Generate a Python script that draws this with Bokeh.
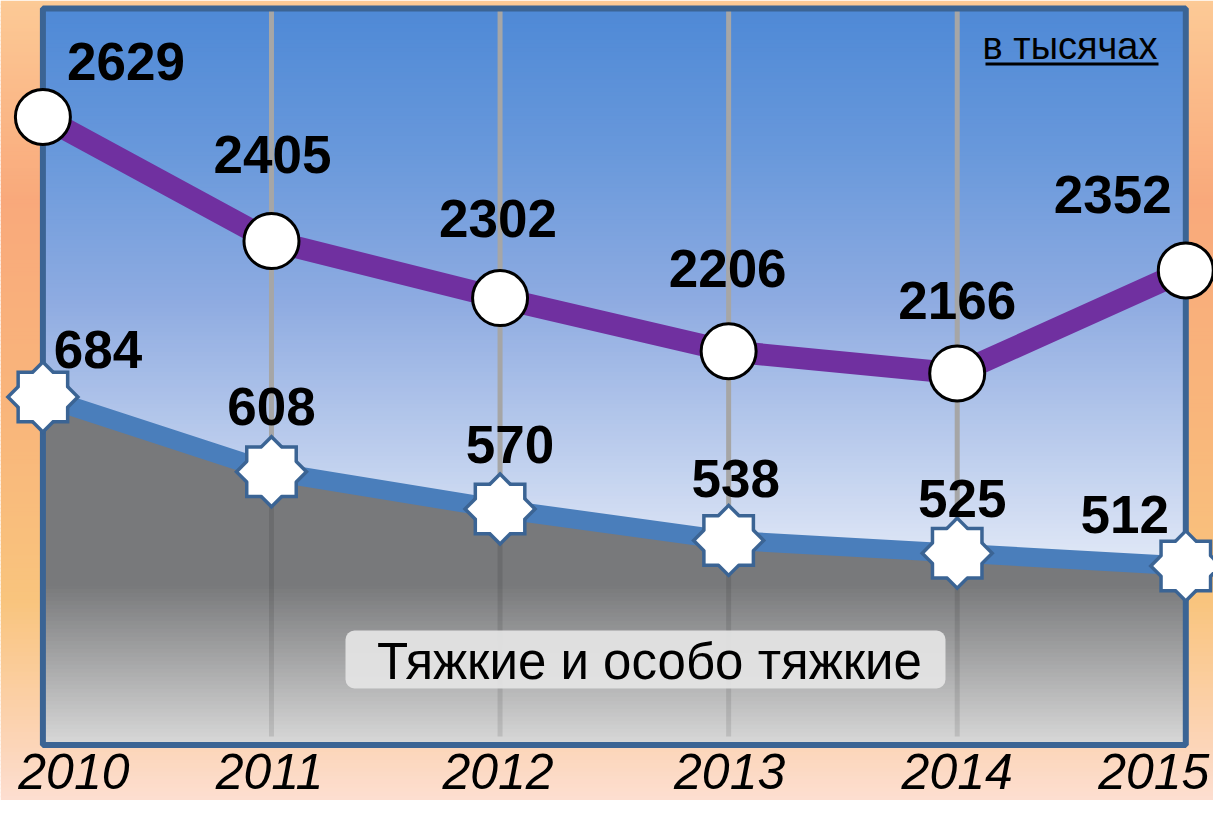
import numpy as np
from bokeh.plotting import figure
from bokeh.models import Range1d, ColumnDataSource
from bokeh.core.properties import value
from bokeh.embed import file_html
from bokeh.resources import INLINE

# ---------------- data ----------------
years = [2010, 2011, 2012, 2013, 2014, 2015]
year_labels = ["2010", "2011", "2012", "2013", "2014", "2015"]
total_crimes = [2629, 2405, 2302, 2206, 2166, 2352]     # purple line
grave_crimes = [684, 608, 570, 538, 525, 512]           # blue line / gray area
unit_note = "в тысячах"
area_label = "Тяжкие и особо тяжкие"

# ---------------- layout ----------------
W, H = 1213, 800
X0, X1 = 2009.8145, 2015.1212
Y0, Y1 = 1394.8, 2839.3      # scale of the purple series
B0, B1 = 273.0, 1088.0       # scale of the blue series
PLOT_TOP = 8.0
PLOT_BOTTOM = 744.5
TFIX = 0.37                  # baseline correction (fraction of font size)

def px_x(px):
    return X0 + px / W * (X1 - X0)

def px_y(py):
    return Y1 - py / H * (Y1 - Y0)

def px_b(py):
    return B1 - py / H * (B1 - B0)

def hex2rgb(h):
    return tuple(int(h[i:i + 2], 16) for i in (1, 3, 5))

def grad_color(stops, t):
    for (p0, c0), (p1, c1) in zip(stops[:-1], stops[1:]):
        if t <= p1:
            f = 0.0 if p1 == p0 else (t - p0) / (p1 - p0)
            f = min(max(f, 0.0), 1.0)
            a, b = hex2rgb(c0), hex2rgb(c1)
            return "#%02x%02x%02x" % tuple(int(round(a[k] + (b[k] - a[k]) * f)) for k in range(3))
    return stops[-1][1]

def strips(p, left, right, py_top, py_bot, stops, step=4.0):
    tops, bots, cols = [], [], []
    e = py_top
    while e < py_bot:
        e2 = min(e + step, py_bot)
        tops.append(px_y(max(e - 0.7, py_top)))
        bots.append(px_y(min(e2 + 0.7, py_bot)))
        cols.append(grad_color(stops, (e + e2) / 2))
        e = e2
    src = ColumnDataSource(dict(top=tops, bottom=bots, c=cols))
    p.quad(left=left, right=right, top="top", bottom="bottom", fill_color="c",
           line_color=None, source=src)

p = figure(width=W, height=H, x_range=Range1d(X0, X1), y_range=Range1d(Y0, Y1),
           x_axis_location=None, y_axis_location=None, toolbar_location=None,
           output_backend="svg", min_border=0, outline_line_color=None)
p.extra_y_ranges = {"blue": Range1d(B0, B1)}
p.grid.visible = False
p.background_fill_color = None
p.border_fill_color = None

# outer orange background gradient
orange_stops = [(0, "#fcca96"), (200, "#f9a97b"), (420, "#f9b67b"),
                (600, "#f9c47d"), (745, "#fcd5b8"), (816, "#fde1d8")]
strips(p, X0, X1, 0, H, orange_stops)

# blue plot-area gradient
blue_stops = [(8, "#4e89d6"), (150, "#6898db"), (300, "#8eabe1"),
              (450, "#bccded"), (580, "#e6ecf8"), (745, "#ffffff")]
strips(p, years[0], years[-1], PLOT_TOP, PLOT_BOTTOM, blue_stops)

# vertical grid lines
inner = years[1:-1]
p.segment(x0=inner, x1=inner, y0=[px_y(PLOT_TOP)] * len(inner), y1=[px_y(PLOT_BOTTOM)] * len(inner),
          line_color="#a6a6a6", line_width=5)

# gray area under blue line
p.varea(x=years, y1=[px_b(PLOT_BOTTOM)] * len(years), y2=grave_crimes,
        fill_color="#78797b", y_range_name="blue")

# lighter gray gradient toward the bottom
gray_stops = [(585, "#78797b"), (744.5, "#d8d8d8")]
strips(p, years[0], years[-1], 585, PLOT_BOTTOM, gray_stops)

# darker grid lines over gray area
p.segment(x0=inner, x1=inner, y0=grave_crimes[1:-1], y1=[px_b(736)] * len(inner),
          line_color="black", line_alpha=0.1, line_width=5, y_range_name="blue")

# plot box border
p.quad(left=years[0], right=years[-1], top=px_y(PLOT_TOP), bottom=px_y(PLOT_BOTTOM),
       fill_alpha=0, line_color="#3b6494", line_width=6)

# lines
p.line(years, grave_crimes, line_color="#4a7ebb", line_width=19, y_range_name="blue")
p.line(years, total_crimes, line_color="#7030a0", line_width=22)

# 8-point stars (two squares)
for ang in (0, np.pi / 4):
    p.scatter(years, grave_crimes, marker="square", size=46, angle=ang,
              fill_color="#3b6494", line_color="#3b6494", line_width=7,
              line_join="miter", y_range_name="blue")
for ang in (0, np.pi / 4):
    p.scatter(years, grave_crimes, marker="square", size=46, angle=ang,
              fill_color="white", line_color=None, y_range_name="blue")

# circles
p.scatter(years, total_crimes, marker="circle", size=55, fill_color="white",
          line_color="black", line_width=3)

LBL = 53
fix = -TFIX * LBL

# value labels
tsrc = ColumnDataSource(dict(x=years, y=total_crimes, t=[str(v) for v in total_crimes],
                             dx=[83, 1, -2, -1, 0, -73],
                             dy=[d + fix for d in [-36, -67, -60, -63, -53, -56]]))
p.text(x="x", y="y", text="t", x_offset="dx", y_offset="dy", source=tsrc,
       text_align="center", text_baseline="alphabetic", text_font=value("Liberation Sans"),
       text_font_style="bold", text_font_size=f"{LBL}px", text_color="black")

gsrc = ColumnDataSource(dict(x=years, y=grave_crimes, t=[str(v) for v in grave_crimes],
                             dx=[55, 0, 10, 7, 5, -61],
                             dy=[d + fix for d in [-28, -46, -45, -42, -35, -32]]))
p.text(x="x", y="y", text="t", x_offset="dx", y_offset="dy", source=gsrc, y_range_name="blue",
       text_align="center", text_baseline="alphabetic", text_font=value("Liberation Sans"),
       text_font_style="bold", text_font_size=f"{LBL}px", text_color="black")

# year labels
YRS = 50
ysrc = ColumnDataSource(dict(x=years, y=[px_y(789)] * len(years), t=year_labels,
                             dx=[31, -2, -2, 1, 0, -32]))
p.text(x="x", y="y", text="t", x_offset="dx", y_offset=-TFIX * YRS, source=ysrc,
       text_align="center", text_baseline="alphabetic", text_font=value("Liberation Sans"),
       text_font_style="italic", text_font_size=f"{YRS}px", text_color="black")

# unit note with underline
UN = 38
p.text(x=[px_x(1157)], y=[px_y(60)], text=[unit_note], y_offset=-TFIX * UN, text_align="right",
       text_baseline="alphabetic", text_font=value("Liberation Sans"),
       text_font_size=f"{UN}px", text_color="black")
p.segment(x0=[px_x(985)], x1=[px_x(1158)], y0=[px_y(63.5)], y1=[px_y(63.5)],
          line_color="black", line_width=3)

# area label box
AL = 51
p.quad(left=px_x(345), right=px_x(945), top=px_y(630), bottom=px_y(688),
       fill_color="#e4e4e4", fill_alpha=0.93, line_color=None, border_radius=9)
p.text(x=[px_x(649)], y=[px_y(680)], text=[area_label], y_offset=-TFIX * AL, text_align="center",
       text_baseline="alphabetic", text_font=value("Liberation Sans"),
       text_font_size=f"{AL}px", text_color="black")

open("out.html", "w").write(file_html(p, INLINE))
